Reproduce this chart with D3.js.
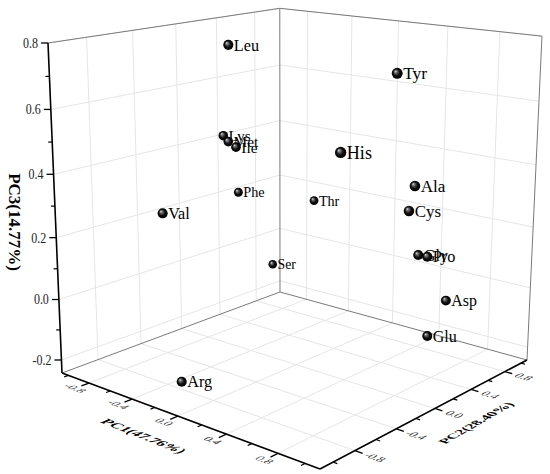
<!DOCTYPE html>
<html><head><meta charset="utf-8">
<script src="https://cdn.jsdelivr.net/npm/d3@7"></script>
<style>body{margin:0;background:#fff}svg{display:block}</style>
</head><body>
<svg id="chart" width="550" height="474"></svg>
<script>
// ---------------- data ----------------
const aminoAcids = ["Leu","Tyr","Lys","Met","Ile","His","Phe","Thr","Ser","Val","Ala","Cys","Gly","Pro","Asp","Glu","Arg"];
const pc1Values = [-0.289, 0.903, -0.529, -0.498, -0.454, 0.902, -0.878, -0.525, -0.845, -0.422, 0.982, 0.928, 0.808, 0.852, 0.885, 0.883, -0.161];
const pc2Values = [-0.319, -0.180, -0.116, -0.102, -0.076, -0.698, 0.409, 0.822, 0.740, -0.792, -0.089, -0.067, 0.213, 0.248, 0.420, 0.226, -0.916];
const pc3Values = [0.786, 0.755, 0.476, 0.458, 0.441, 0.574, 0.214, 0.174, -0.077, 0.300, 0.431, 0.351, 0.176, 0.171, 0.015, -0.074, -0.187];

const pc1Domain = [-1.062, 1.108];
const pc2Domain = [-1.117, 1.075];
const pc3Domain = [-0.2436, 0.8];
const pc1Ticks = [-0.8, -0.4, 0.0, 0.4, 0.8];
const pc1Minor = [-1.0, -0.6, -0.2, 0.2, 0.6, 1.0];
const pc2Ticks = [-0.8, -0.4, 0.0, 0.4, 0.8];
const pc2Minor = [-1.0, -0.6, -0.2, 0.2, 0.6, 1.0];
const pc3Ticks = [-0.2, 0.0, 0.2, 0.4, 0.6, 0.8];
const pc3Minor = [-0.1, 0.1, 0.3, 0.5, 0.7];
const axisTitles = {x: "PC1(47.76%)", y: "PC2(28.40%)", z: "PC3(14.77%)"};

// ---------------- layout (projected box) ----------------
const A = [62, 373], B = [320, 469], C = [527, 360], D = [280, 292], AT = [48, 43];
const VERT_W = 0.9407;
const det = (B[0]-C[0])*(D[1]-C[1]) - (D[0]-C[0])*(B[1]-C[1]);
const beta = ((A[0]-C[0])*(D[1]-C[1]) - (D[0]-C[0])*(A[1]-C[1]))/det;
const delta = ((B[0]-C[0])*(A[1]-C[1]) - (A[0]-C[0])*(B[1]-C[1]))/det;
const c0 = [beta*B[0]-A[0], beta*B[1]-A[1], beta-1];
const c1 = [delta*D[0]-A[0], delta*D[1]-A[1], delta-1];
const c2 = [VERT_W*AT[0]-A[0], VERT_W*AT[1]-A[1], VERT_W-1];

const xs = d3.scaleLinear().domain(pc1Domain).range([0, 1]);
const ys = d3.scaleLinear().domain(pc2Domain).range([0, 1]);
const zs = d3.scaleLinear().domain(pc3Domain).range([0, 1]);

function proj(x, y, z) {
  const u = xs(x), v = ys(y), t = zs(z);
  const X = A[0] + u*c0[0] + v*c1[0] + t*c2[0];
  const Y = A[1] + u*c0[1] + v*c1[1] + t*c2[1];
  const W = 1 + u*c0[2] + v*c1[2] + t*c2[2];
  return [X/W, Y/W, W];
}
function dir(p, q) { const dx = q[0]-p[0], dy = q[1]-p[1], L = Math.hypot(dx, dy); return [dx/L, dy/L]; }
const fmt = d => d.toFixed(1);
const SERIF = "Liberation Serif, Times New Roman, serif";

const [x0, x1] = pc1Domain, [y0, y1] = pc2Domain, [z0, z1] = pc3Domain;
const svg = d3.select("#chart");
const defs = svg.append("defs");
const grad = defs.append("radialGradient").attr("id", "ball")
  .attr("cx", "50%").attr("cy", "50%").attr("r", "50%").attr("fx", "32%").attr("fy", "30%");
grad.append("stop").attr("offset", "0%").attr("stop-color", "#e8e8e8");
grad.append("stop").attr("offset", "22%").attr("stop-color", "#777");
grad.append("stop").attr("offset", "60%").attr("stop-color", "#111");
grad.append("stop").attr("offset", "100%").attr("stop-color", "#000");

function seg(g, p, q, color, w) {
  g.append("line").attr("x1", p[0]).attr("y1", p[1]).attr("x2", q[0]).attr("y2", q[1])
    .attr("stroke", color).attr("stroke-width", w);
}

// ---------------- grid ----------------
const grid = svg.append("g");
const GC = "#e6e6e6";
pc2Ticks.forEach(y => seg(grid, proj(x0, y, z0), proj(x0, y, z1), GC, 1));   // left wall
pc3Ticks.forEach(z => seg(grid, proj(x0, y0, z), proj(x0, y1, z), GC, 1));
pc1Ticks.forEach(x => seg(grid, proj(x, y1, z0), proj(x, y1, z1), GC, 1));   // right wall
pc3Ticks.forEach(z => seg(grid, proj(x0, y1, z), proj(x1, y1, z), GC, 1));
pc1Ticks.forEach(x => seg(grid, proj(x, y0, z0), proj(x, y1, z0), GC, 1));   // floor
pc2Ticks.forEach(y => seg(grid, proj(x0, y, z0), proj(x1, y, z0), GC, 1));

// ---------------- box edges ----------------
const edges = svg.append("g");
const EC = "#7a7a7a";
seg(edges, proj(x0, y0, z1), proj(x0, y1, z1), EC, 1);
seg(edges, proj(x0, y1, z1), proj(x1, y1, z1), EC, 1);
seg(edges, proj(x1, y1, z1), proj(x1, y1, z0), EC, 1);
seg(edges, proj(x0, y1, z0), proj(x0, y1, z1), EC, 1);
seg(edges, proj(x0, y0, z0), proj(x0, y1, z0), EC, 1);
seg(edges, proj(x0, y1, z0), proj(x1, y1, z0), EC, 1);

// ---------------- axes ----------------
const axes = svg.append("g");
seg(axes, proj(x0, y0, z0), proj(x0, y0, z1), "#000", 1.6);
seg(axes, proj(x0, y0, z0), proj(x1, y0, z0), "#000", 1.6);
seg(axes, proj(x1, y0, z0), proj(x1, y1, z0), "#000", 1.6);

// PC3 ticks
pc3Ticks.forEach(z => { const p = proj(x0, y0, z); seg(axes, p, [p[0]-7, p[1]], "#000", 1.3); });
pc3Minor.forEach(z => { const p = proj(x0, y0, z); seg(axes, p, [p[0]-4, p[1]], "#000", 1.2); });
pc3Ticks.forEach(z => {
  const p = proj(x0, y0, z);
  axes.append("text").attr("transform", `translate(${p[0]-10},${p[1]}) scale(0.8,1)`)
    .attr("text-anchor", "end").attr("dominant-baseline", "central")
    .attr("font-family", SERIF).attr("font-size", 15)
    .attr("fill", "#222").text(fmt(z));
});

// PC1 ticks
pc1Ticks.forEach(x => seg(axes, proj(x, y0, z0), proj(x, y0-0.065, z0), "#000", 1.3));
pc1Minor.forEach(x => seg(axes, proj(x, y0, z0), proj(x, y0-0.035, z0), "#000", 1.2));
function planeText(g, pos, e1, up, k1, k2, txt, size, weight, color) {
  g.append("text")
    .attr("transform", `matrix(${e1[0]*k1},${e1[1]*k1},${-up[0]*k2},${-up[1]*k2},${pos[0]},${pos[1]})`)
    .attr("text-anchor", "middle").attr("dominant-baseline", "central")
    .attr("font-family", SERIF)
    .attr("font-size", size).attr("font-weight", weight).attr("fill", color).text(txt);
}
pc1Ticks.forEach(x => {
  const p = proj(x, y0-0.12, z0);
  const e1 = dir(p, proj(x+0.1, y0-0.12, z0));
  const up = dir(p, proj(x, y0-0.02, z0));
  planeText(axes, p, e1, up, 1, 0.95, fmt(x), 12, "normal", "#333");
});
// PC2 ticks
pc2Ticks.forEach(y => seg(axes, proj(x1, y, z0), proj(x1+0.055, y, z0), "#000", 1.3));
pc2Minor.forEach(y => seg(axes, proj(x1, y, z0), proj(x1+0.03, y, z0), "#000", 1.2));
pc2Ticks.forEach(y => {
  const p = proj(x1+0.14, y, z0);
  const e1 = dir(p, proj(x1+0.24, y, z0));
  const up = dir(p, proj(x1+0.14, y+0.1, z0));
  planeText(axes, p, e1, up, 1, 0.95, fmt(y), 12, "normal", "#333");
});

// axis titles
{
  const ref = proj(0.08, y0-0.36, z0);
  const e1 = dir(ref, proj(0.18, y0-0.36, z0));
  const up = dir(ref, proj(0.08, y0-0.26, z0));
  planeText(axes, [144, 436], e1, up, 1, 0.9, axisTitles.x, 15, "bold", "#000");
}
{
  const ref = proj(x1+0.4, 0.0, z0);
  const e1 = dir(ref, proj(x1+0.4, 0.1, z0));
  const up = dir(ref, proj(x1+0.3, 0.0, z0));
  planeText(axes, [476, 423], e1, up, 1, 0.9, axisTitles.y, 14, "bold", "#000");
}
axes.append("text").attr("transform", "translate(9,222) rotate(90)")
  .attr("text-anchor", "middle")
  .attr("font-family", SERIF)
  .attr("font-size", 17).attr("font-weight", "bold").attr("fill", "#000").text(axisTitles.z);

// ---------------- points ----------------
const pts = aminoAcids.map((n, i) => {
  const p = proj(pc1Values[i], pc2Values[i], pc3Values[i]);
  return {name: n, sx: p[0], sy: p[1], w: p[2], i};
});
pts.sort((a, b) => (b.w - a.w) || (a.i - b.i));
const pg = svg.append("g");
pts.forEach(d => {
  const r = 4.8 / d.w, fs = 15.4 / d.w;
  pg.append("circle").attr("cx", d.sx).attr("cy", d.sy).attr("r", r).attr("fill", "url(#ball)");
  pg.append("text").attr("x", d.sx + r + 0.5).attr("y", d.sy + 0.35*fs)
    .attr("font-family", SERIF)
    .attr("font-size", fs).attr("fill", "#000").text(d.name);
});
</script>
</body></html>
